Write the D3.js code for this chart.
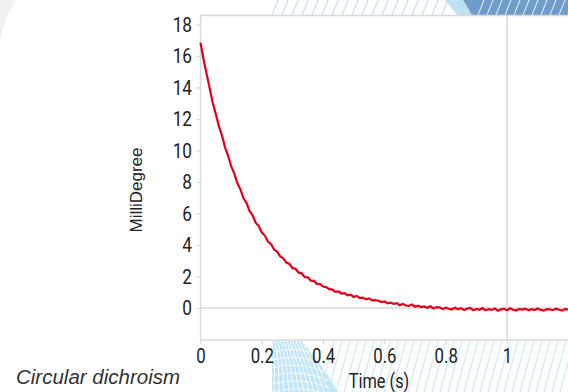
<!DOCTYPE html>
<html>
<head>
<meta charset="utf-8">
<script src="https://cdn.jsdelivr.net/npm/d3@7"></script>
<style>
  html, body { margin: 0; padding: 0; background: #fff; }
  svg { display: block; }
</style>
</head>
<body>
<div id="chart"></div>
<script>
// time axis (s), sampled every 0.01 s
const timeStart = 0;
const timeStep = 0.01;

// CD signal (milli degree)
const milliDegree = [
  16.85, 15.78, 14.86, 13.95, 13.02, 12.31, 11.55, 10.96, 10.20, 9.68,
  9.00, 8.55, 7.93, 7.55, 6.98, 6.68, 6.16, 5.88, 5.42, 5.20,
  4.79, 4.60, 4.22, 4.06, 3.71, 3.58, 3.27, 3.16, 2.88, 2.80,
  2.53, 2.49, 2.24, 2.20, 1.96, 1.95, 1.74, 1.72, 1.53, 1.52,
  1.36, 1.33, 1.20, 1.17, 1.03, 1.05, 0.92, 0.94, 0.80, 0.84,
  0.70, 0.77, 0.63, 0.66, 0.55, 0.61, 0.48, 0.50, 0.46, 0.38,
  0.42, 0.30, 0.34, 0.27, 0.31, 0.18, 0.26, 0.16, 0.13, 0.22,
  0.08, 0.15, 0.06, 0.10, 0.02, 0.11, -0.03, 0.05, 0.04, -0.07,
  0.02, -0.05, -0.10, 0.01, -0.08, -0.02, -0.13, -0.04, 0.00, -0.14,
  -0.06, -0.11, -0.01, -0.15, -0.07, -0.12, -0.03, -0.17, -0.09, -0.05,
  -0.14, -0.02, -0.11, -0.16, -0.06, -0.10, -0.04, -0.15, -0.08, -0.13,
  -0.03, -0.12, -0.17, -0.07, -0.09, -0.14, -0.04, -0.11, -0.16, -0.06,
  -0.10
];

const xTicks = [0, 0.2, 0.4, 0.6, 0.8, 1];
const yTicks = [0, 2, 4, 6, 8, 10, 12, 14, 16, 18];
const xGridValues = [1];
const yGridValues = [0];

const title = "Circular dichroism";
const xLegend = "Time (s)";
const yLegend = "MilliDegree";

const W = 568, H = 392;
const frame = { left: 200.5, top: 15.5, bottom: 340 };
const squeeze = 0.84; // the original labels use a narrow face

const svg = d3.select("#chart")
  .append("svg")
  .attr("width", W)
  .attr("height", H);

svg.append("rect").attr("width", W).attr("height", H).attr("fill", "#fff");

// faint corner shade top-left
svg.append("path")
  .attr("d", "M0,0 L16,0 Q5,16 0,42 Z")
  .attr("fill", "#f1f1f1");

// --- decorative band on top ---
const deco = svg.append("g");
const topBand = deco.append("g");
d3.range(272, 452, 10).forEach(x0 => {
  topBand.append("line")
    .attr("x1", x0).attr("y1", 15)
    .attr("x2", x0 + 6).attr("y2", 0)
    .attr("stroke", "#bfe4f5").attr("stroke-width", 1.2);
});
topBand.append("path")
  .attr("d", "M445,0 L463,0 L472,15 L457,15 Z")
  .attr("fill", "#bde3f3");
topBand.append("path")
  .attr("d", "M463,0 L568,0 L568,15 L472,15 Z")
  .attr("fill", "#6f9dcb");
d3.range(478, 575, 9).forEach(x0 => {
  topBand.append("line")
    .attr("x1", x0).attr("y1", 15)
    .attr("x2", x0 + 6).attr("y2", 0)
    .attr("stroke", "#f4f8fc").attr("stroke-width", 1);
});

// --- decorative pattern under the x axis ---
svg.append("clipPath").attr("id", "bottomClip")
  .append("rect").attr("x", 272).attr("y", 341).attr("width", W - 272).attr("height", H - 341);
const bottomBand = deco.append("g").attr("clip-path", "url(#bottomClip)");
bottomBand.append("path")
  .attr("d", "M272,341 L302,341 Q320,362 338,392 L272,392 Z")
  .attr("fill", "#c2e5f6");
d3.range(0, 12).forEach(i => {
  bottomBand.append("path")
    .attr("d", `M${274 + i * 5},392 Q${276 + i * 4},366 ${272 + i * 3},341`)
    .attr("fill", "none")
    .attr("stroke", "#fff").attr("stroke-width", 0.9);
});
d3.range(0, 6).forEach(i => {
  bottomBand.append("path")
    .attr("d", `M272,${352 + i * 8} Q300,${344 + i * 8} 330,${360 + i * 7}`)
    .attr("fill", "none")
    .attr("stroke", "#fff").attr("stroke-width", 0.8);
});
d3.range(320, 580, 8).forEach(x0 => {
  bottomBand.append("line")
    .attr("x1", x0).attr("y1", 392)
    .attr("x2", x0 + 14).attr("y2", 341)
    .attr("stroke", "#c9e8f6").attr("stroke-width", 1);
});

// --- scales ---
const x = d3.scaleLinear()
  .domain([0, 1.2])
  .range([frame.left, W + 0.3]);

const y = d3.scaleLinear()
  .domain([-2, 18])
  .range([339.5, 24.5]);

const data = milliDegree.map((v, i) => ({ t: timeStart + i * timeStep, v }));

const axisColor = "#d9d9d9";
const labelFont = "Roboto, 'DejaVu Sans', sans-serif";

// grid lines
svg.selectAll(".xgrid")
  .data(xGridValues)
  .enter()
  .append("line")
  .attr("x1", d => x(d)).attr("x2", d => x(d))
  .attr("y1", frame.top).attr("y2", frame.bottom)
  .attr("stroke", axisColor).attr("stroke-width", 1.5);

svg.selectAll(".ygrid")
  .data(yGridValues)
  .enter()
  .append("line")
  .attr("x1", frame.left).attr("x2", W)
  .attr("y1", d => y(d)).attr("y2", d => y(d))
  .attr("stroke", axisColor).attr("stroke-width", 1.5);

// frame
svg.append("path")
  .attr("d", `M${W},${frame.top} L${frame.left},${frame.top} L${frame.left},${frame.bottom} L${W},${frame.bottom}`)
  .attr("fill", "none")
  .attr("stroke", axisColor)
  .attr("stroke-width", 1.5);

// Y axis
const yAxis = svg.append("g")
  .attr("transform", `translate(${frame.left},0)`)
  .call(d3.axisLeft(y).tickValues(yTicks).tickSize(4).tickSizeOuter(0));
yAxis.select(".domain").remove();
yAxis.selectAll("line").attr("stroke", axisColor).attr("stroke-width", 1.2);
yAxis.selectAll("text")
  .attr("x", -8.5 / squeeze)
  .attr("transform", `scale(${squeeze},1)`)
  .style("font-family", labelFont)
  .style("font-size", "20.5px")
  .attr("fill", "#222");

// X axis
const xAxis = svg.append("g")
  .attr("transform", `translate(0,${frame.bottom})`)
  .call(d3.axisBottom(x).tickValues(xTicks).tickFormat(d3.format("~g")).tickSize(4).tickSizeOuter(0).tickPadding(5));
xAxis.select(".domain").remove();
xAxis.selectAll("line").attr("stroke", axisColor).attr("stroke-width", 1.2);
xAxis.selectAll("text")
  .attr("transform", `scale(${squeeze},1)`)
  .style("font-family", labelFont)
  .style("font-size", "20px")
  .attr("fill", "#222");

// the trace
const line = d3.line()
  .x(d => x(d.t))
  .y(d => y(d.v));

svg.append("path")
  .datum(data)
  .attr("d", line)
  .attr("fill", "none")
  .attr("stroke", "#e2001a")
  .attr("stroke-width", 2.2)
  .attr("stroke-linejoin", "miter");

// legends
svg.append("g")
  .attr("transform", "translate(379,388)")
  .append("text")
  .attr("transform", `scale(${squeeze},1)`)
  .attr("text-anchor", "middle")
  .style("font-family", labelFont)
  .style("font-size", "19.5px")
  .attr("fill", "#222")
  .text(xLegend);

svg.append("text")
  .attr("transform", "translate(142,190) rotate(-90)")
  .attr("text-anchor", "middle")
  .style("font-family", "'Liberation Sans', Arial, sans-serif")
  .style("font-size", "17px")
  .attr("fill", "#222")
  .text(yLegend);

svg.append("text")
  .attr("x", 16)
  .attr("y", 384)
  .style("font-family", "'Liberation Sans', Arial, sans-serif")
  .style("font-style", "italic")
  .style("font-size", "20.5px")
  .attr("fill", "#333")
  .text(title);
</script>
</body>
</html>
